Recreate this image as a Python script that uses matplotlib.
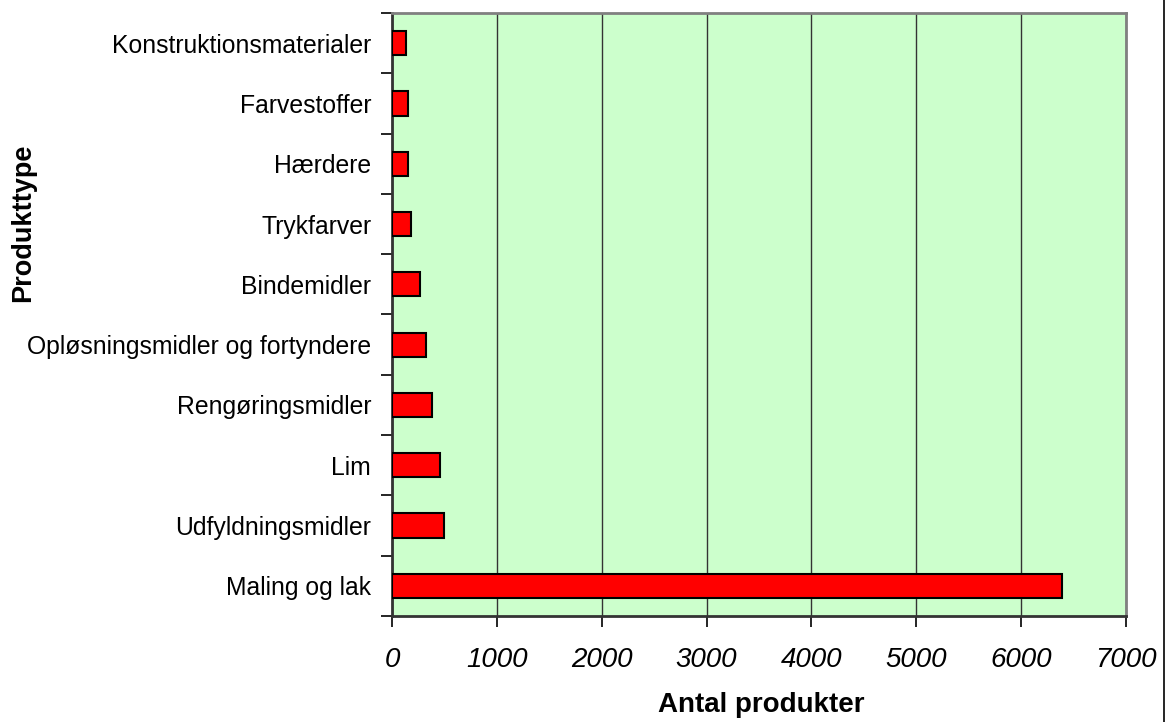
import matplotlib
matplotlib.use("Agg")
import matplotlib.pyplot as plt
from matplotlib.lines import Line2D

categories = ["Maling og lak", "Udfyldningsmidler", "Lim", "Rengøringsmidler",
              "Opløsningsmidler og fortyndere", "Bindemidler", "Trykfarver",
              "Hærdere", "Farvestoffer", "Konstruktionsmaterialer"]
values = [6390, 499, 461, 384, 327, 270, 178, 156, 156, 136]
xticks = [0, 1000, 2000, 3000, 4000, 5000, 6000, 7000]

plt.rcParams['font.family'] = ['Liberation Sans', 'DejaVu Sans']

fig = plt.figure(figsize=(11.68, 7.22), dpi=100)
W, H = 1168, 722
ax = fig.add_axes([392 / W, 1 - 616 / H, (1126 - 392) / W, (616 - 13) / H])
ax.set_facecolor('#CCFFCC')

y = list(range(len(categories)))
ax.barh(y, values, height=0.4, color='#FF0000', edgecolor='black', linewidth=1.5, zorder=3)

ax.set_xlim(0, 7000)
ax.set_ylim(-0.5, len(categories) - 0.5)
ax.set_xticks(xticks)
ax.set_xticklabels([str(v) for v in xticks], fontsize=20, style='italic')
ax.set_yticks([i + 0.5 for i in range(-1, len(categories))], minor=False)
ax.set_yticklabels([])
ax.set_yticks(y, minor=True)
ax.set_yticklabels(categories, minor=True, fontsize=17.8)
ax.tick_params(axis='y', which='minor', length=0, pad=15)
ax.tick_params(axis='y', which='major', length=8, width=1.2, color='black', direction='out')
ax.tick_params(axis='x', length=8, width=1.2, color='black', direction='out', pad=14)

ax.grid(axis='x', color='#333333', linewidth=1, zorder=1)
ax.set_axisbelow(True)

for s in ['top', 'right']:
    ax.spines[s].set_color('#808080')
    ax.spines[s].set_linewidth(2)
for s in ['left', 'bottom']:
    ax.spines[s].set_color('#333333')
    ax.spines[s].set_linewidth(2)

fig.text(761 / W, 1 - 705 / H, 'Antal produkter', fontsize=20, fontweight='bold',
         ha='center', va='center')
fig.text(23 / W, 1 - 223 / H, 'Produkttype', fontsize=19.5, fontweight='bold',
         ha='center', va='center', rotation=90)

fig.add_artist(Line2D([1164 / W, 1164 / W], [0, 1], color='black', linewidth=1.2,
                      transform=fig.transFigure))

fig.savefig('out.png', dpi=100)
